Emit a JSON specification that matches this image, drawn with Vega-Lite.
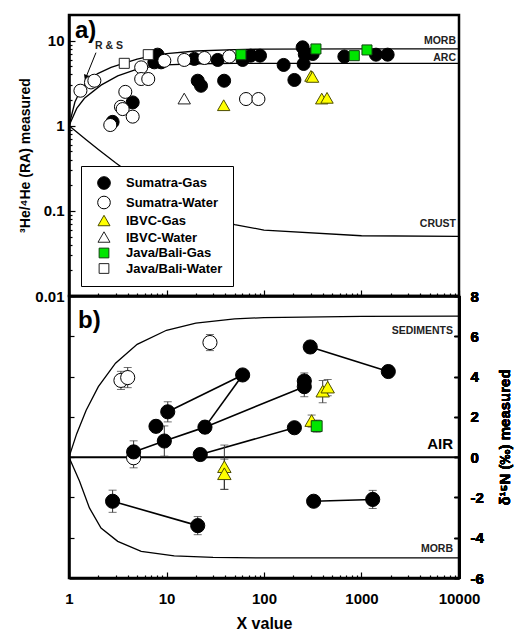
{
  "$schema": "https://vega.github.io/schema/vega-lite/v6.json",
  "padding": {"left": 16, "top": 13, "right": 0, "bottom": 0},
  "spacing": 0,
  "bounds": "flush",
  "config": {
    "font": "Liberation Sans",
    "view": {"stroke": "black", "strokeWidth": 2.5},
    "axis": {"grid": false, "domainColor": "black", "domainWidth": 2.5, "tickColor": "black", "tickWidth": 1.2,
      "labelFont": "Liberation Sans", "labelFontWeight": "bold", "labelFontSize": 15, "labelColor": "black",
      "titleFont": "Liberation Sans", "titleFontWeight": "bold", "titleColor": "black",
      "labelFlush": false, "labelOverlap": false, "labelBound": false}
  },
  "datasets": {
    "curvesA": [
      {"c": "MORB", "x": 1, "y": 1}, {"c": "MORB", "x": 1.15, "y": 1.9}, {"c": "MORB", "x": 1.33, "y": 2.7}, {"c": "MORB", "x": 1.6, "y": 3.45}, {"c": "MORB", "x": 1.97, "y": 4.1}, {"c": "MORB", "x": 2.7, "y": 4.85}, {"c": "MORB", "x": 3.69, "y": 5.45}, {"c": "MORB", "x": 5, "y": 6.05}, {"c": "MORB", "x": 6.5, "y": 6.5}, {"c": "MORB", "x": 10, "y": 7.05}, {"c": "MORB", "x": 20, "y": 7.55}, {"c": "MORB", "x": 50, "y": 7.85}, {"c": "MORB", "x": 100, "y": 7.95}, {"c": "MORB", "x": 1000, "y": 8.0}, {"c": "MORB", "x": 10000, "y": 8.0},
      {"c": "ARC", "x": 1, "y": 1}, {"c": "ARC", "x": 1.2, "y": 1.6}, {"c": "ARC", "x": 1.44, "y": 2.1}, {"c": "ARC", "x": 2.13, "y": 3.0}, {"c": "ARC", "x": 3.16, "y": 3.85}, {"c": "ARC", "x": 4.67, "y": 4.5}, {"c": "ARC", "x": 6.9, "y": 4.95}, {"c": "ARC", "x": 10, "y": 5.2}, {"c": "ARC", "x": 20, "y": 5.35}, {"c": "ARC", "x": 50, "y": 5.4}, {"c": "ARC", "x": 10000, "y": 5.4},
      {"c": "CRUST", "x": 1, "y": 1}, {"c": "CRUST", "x": 1.2, "y": 0.842}, {"c": "CRUST", "x": 1.5, "y": 0.683}, {"c": "CRUST", "x": 2, "y": 0.525}, {"c": "CRUST", "x": 3, "y": 0.367}, {"c": "CRUST", "x": 5, "y": 0.24}, {"c": "CRUST", "x": 10, "y": 0.145}, {"c": "CRUST", "x": 20, "y": 0.0975}, {"c": "CRUST", "x": 50, "y": 0.069}, {"c": "CRUST", "x": 100, "y": 0.0595}, {"c": "CRUST", "x": 1000, "y": 0.051}, {"c": "CRUST", "x": 10000, "y": 0.0501}
    ],
    "ptsA": [
      {"s": "Sumatra-Gas", "x": 2.8, "y": 1.11}, {"s": "Sumatra-Gas", "x": 4.5, "y": 1.88}, {"s": "Sumatra-Gas", "x": 8.1, "y": 6.84}, {"s": "Sumatra-Gas", "x": 7.5, "y": 5.56}, {"s": "Sumatra-Gas", "x": 8.8, "y": 5.56}, {"s": "Sumatra-Gas", "x": 19.3, "y": 6.1}, {"s": "Sumatra-Gas", "x": 20.9, "y": 3.38}, {"s": "Sumatra-Gas", "x": 22.6, "y": 2.95}, {"s": "Sumatra-Gas", "x": 39, "y": 3.38}, {"s": "Sumatra-Gas", "x": 33.5, "y": 5.93}, {"s": "Sumatra-Gas", "x": 60.4, "y": 5.93}, {"s": "Sumatra-Gas", "x": 73, "y": 6.66}, {"s": "Sumatra-Gas", "x": 91, "y": 6.66}, {"s": "Sumatra-Gas", "x": 249, "y": 8.34}, {"s": "Sumatra-Gas", "x": 262, "y": 6.9}, {"s": "Sumatra-Gas", "x": 255, "y": 5.32}, {"s": "Sumatra-Gas", "x": 159, "y": 5.18}, {"s": "Sumatra-Gas", "x": 205, "y": 3.45}, {"s": "Sumatra-Gas", "x": 316, "y": 6.97}, {"s": "Sumatra-Gas", "x": 667, "y": 6.5}, {"s": "Sumatra-Gas", "x": 1408, "y": 6.84}, {"s": "Sumatra-Gas", "x": 1854, "y": 6.84},
      {"s": "Sumatra-Water", "x": 1.31, "y": 2.58}, {"s": "Sumatra-Water", "x": 1.68, "y": 3.23}, {"s": "Sumatra-Water", "x": 1.82, "y": 3.38}, {"s": "Sumatra-Water", "x": 3.78, "y": 2.5}, {"s": "Sumatra-Water", "x": 3.41, "y": 1.67}, {"s": "Sumatra-Water", "x": 3.55, "y": 1.57}, {"s": "Sumatra-Water", "x": 4.5, "y": 1.28}, {"s": "Sumatra-Water", "x": 2.65, "y": 1.02}, {"s": "Sumatra-Water", "x": 5.5, "y": 4.85}, {"s": "Sumatra-Water", "x": 5.5, "y": 3.54}, {"s": "Sumatra-Water", "x": 6.5, "y": 3.54}, {"s": "Sumatra-Water", "x": 9.5, "y": 5.8}, {"s": "Sumatra-Water", "x": 15.2, "y": 5.93}, {"s": "Sumatra-Water", "x": 24.5, "y": 6.25}, {"s": "Sumatra-Water", "x": 44, "y": 6.5}, {"s": "Sumatra-Water", "x": 65.4, "y": 2.06}, {"s": "Sumatra-Water", "x": 87.7, "y": 2.06},
      {"s": "IBVC-Gas", "x": 38.6, "y": 1.72}, {"s": "IBVC-Gas", "x": 303, "y": 3.8}, {"s": "IBVC-Gas", "x": 315, "y": 3.7}, {"s": "IBVC-Gas", "x": 391, "y": 2.06}, {"s": "IBVC-Gas", "x": 443, "y": 2.1},
      {"s": "IBVC-Water", "x": 15.2, "y": 2.06},
      {"s": "Java/Bali-Gas", "x": 58, "y": 6.84}, {"s": "Java/Bali-Gas", "x": 341, "y": 7.98}, {"s": "Java/Bali-Gas", "x": 843, "y": 6.66}, {"s": "Java/Bali-Gas", "x": 1138, "y": 7.77},
      {"s": "Java/Bali-Water", "x": 3.69, "y": 5.41}, {"s": "Java/Bali-Water", "x": 6.5, "y": 6.84}
    ],
    "labelsA": [
      {"t": "MORB", "x": 10000, "y": 10}, {"t": "ARC", "x": 10000, "y": 6.3}, {"t": "CRUST", "x": 10000, "y": 0.0703}
    ],
    "curvesB": [
      {"c": "SED", "x": 1, "y": 0}, {"c": "SED", "x": 1.2, "y": 1.167}, {"c": "SED", "x": 1.5, "y": 2.333}, {"c": "SED", "x": 2, "y": 3.5}, {"c": "SED", "x": 3, "y": 4.667}, {"c": "SED", "x": 5, "y": 5.6}, {"c": "SED", "x": 10, "y": 6.3}, {"c": "SED", "x": 20, "y": 6.65}, {"c": "SED", "x": 50, "y": 6.86}, {"c": "SED", "x": 100, "y": 6.93}, {"c": "SED", "x": 1000, "y": 6.99}, {"c": "SED", "x": 10000, "y": 7.0},
      {"c": "MORB", "x": 1, "y": 0}, {"c": "MORB", "x": 1.28, "y": -1.19}, {"c": "MORB", "x": 1.62, "y": -2.52}, {"c": "MORB", "x": 2.13, "y": -3.52}, {"c": "MORB", "x": 3.16, "y": -4.18}, {"c": "MORB", "x": 5.5, "y": -4.68}, {"c": "MORB", "x": 12, "y": -4.9}, {"c": "MORB", "x": 30, "y": -4.98}, {"c": "MORB", "x": 100, "y": -5.0}, {"c": "MORB", "x": 10000, "y": -5.0}
    ],
    "links": [
      {"g": "g1", "x": 10.3, "y": 2.25}, {"g": "g1", "x": 60.4, "y": 4.08},
      {"g": "g2", "x": 24.8, "y": 1.49}, {"g": "g2", "x": 60.4, "y": 4.08},
      {"g": "g3", "x": 4.6, "y": 0.26}, {"g": "g3", "x": 9.5, "y": 0.8}, {"g": "g3", "x": 24.8, "y": 1.49}, {"g": "g3", "x": 259, "y": 3.5},
      {"g": "g4", "x": 22.2, "y": 0.13}, {"g": "g4", "x": 205, "y": 1.46},
      {"g": "g5", "x": 2.8, "y": -2.19}, {"g": "g5", "x": 20.9, "y": -3.4},
      {"g": "g6", "x": 298, "y": 5.47}, {"g": "g6", "x": 1883, "y": 4.25},
      {"g": "g7", "x": 323, "y": -2.19}, {"g": "g7", "x": 1303, "y": -2.1}
    ],
    "ptsB": [
      {"s": "Sumatra-Water", "x": 3.41, "y": 3.81, "e": 0.45}, {"s": "Sumatra-Water", "x": 4.0, "y": 3.95, "e": 0.5}, {"s": "Sumatra-Water", "x": 27.9, "y": 5.69, "e": 0.4}, {"s": "Sumatra-Water", "x": 4.6, "y": -0.03, "e": 0.5},
      {"s": "Sumatra-Gas", "x": 60.4, "y": 4.08, "e": 0.25}, {"s": "Sumatra-Gas", "x": 10.3, "y": 2.25, "e": 0.5}, {"s": "Sumatra-Gas", "x": 7.8, "y": 1.53, "e": 0.3}, {"s": "Sumatra-Gas", "x": 24.8, "y": 1.49, "e": 0.3}, {"s": "Sumatra-Gas", "x": 9.5, "y": 0.8, "e": 0.75}, {"s": "Sumatra-Gas", "x": 4.6, "y": 0.26, "e": 0.55}, {"s": "Sumatra-Gas", "x": 22.2, "y": 0.13, "e": 0.3}, {"s": "Sumatra-Gas", "x": 2.8, "y": -2.19, "e": 0.55}, {"s": "Sumatra-Gas", "x": 20.9, "y": -3.4, "e": 0.45}, {"s": "Sumatra-Gas", "x": 259, "y": 3.78, "e": 0.4}, {"s": "Sumatra-Gas", "x": 259, "y": 3.5, "e": 0.5}, {"s": "Sumatra-Gas", "x": 205, "y": 1.46, "e": 0.25}, {"s": "Sumatra-Gas", "x": 298, "y": 5.47, "e": 0.3}, {"s": "Sumatra-Gas", "x": 1883, "y": 4.25, "e": 0.3}, {"s": "Sumatra-Gas", "x": 323, "y": -2.19, "e": 0.15}, {"s": "Sumatra-Gas", "x": 1303, "y": -2.1, "e": 0.45},
      {"s": "IBVC-Gas", "x": 39.2, "y": -0.5, "e": 1.1}, {"s": "IBVC-Gas", "x": 39.2, "y": -0.85, "e": 0.75}, {"s": "IBVC-Gas", "x": 400, "y": 3.25, "e": 0.55}, {"s": "IBVC-Gas", "x": 450, "y": 3.45, "e": 0.4}, {"s": "IBVC-Gas", "x": 308, "y": 1.79, "e": 0.3},
      {"s": "Java/Bali-Gas", "x": 347, "y": 1.54, "e": 0.3}
    ],
    "air": [{"x": 1, "x2": 10000, "y": 0}]
  },
  "vconcat": [
    {
      "width": 390, "height": 281,
      "layer": [
        {
          "data": {"name": "curvesA"},
          "mark": {"type": "line", "color": "black", "strokeWidth": 1.3, "clip": true},
          "encoding": {
            "x": {"field": "x", "type": "quantitative", "scale": {"type": "log", "domain": [1, 10000], "nice": false},
              "axis": {"orient": "bottom", "labels": false, "title": null,
                "values": [1,2,3,4,5,6,7,8,9,10,20,30,40,50,60,70,80,90,100,200,300,400,500,600,700,800,900,1000,2000,3000,4000,5000,6000,7000,8000,9000,10000],
                "tickSize": {"condition": {"test": "indexof([1,10,100,1000,10000], datum.value) >= 0", "value": -6}, "value": -3}}},
            "y": {"field": "y", "type": "quantitative", "scale": {"type": "log", "domain": [0.01, 20], "nice": false},
              "axis": {"orient": "left", "title": "³He/⁴He (RA) measured", "titleFontSize": 14, "titleAngle": 270, "titleX": -44, "titleY": 140, "titleAlign": "center", "titleBaseline": "middle",
                "values": [0.01,0.02,0.03,0.04,0.05,0.06,0.07,0.08,0.09,0.1,0.2,0.3,0.4,0.5,0.6,0.7,0.8,0.9,1,2,3,4,5,6,7,8,9,10],
                "labelExpr": "indexof([0.01,0.1,1,10], datum.value) >= 0 ? toString(datum.value) : ''",
                "labelPadding": 11,
                "tickSize": {"condition": {"test": "indexof([0.01,0.1,1,10], datum.value) >= 0", "value": -6}, "value": -3}}},
            "detail": {"field": "c"},
            "order": {"field": "x", "type": "quantitative"}
          }
        },
        {
          "data": {"values": [{"x": 1.89, "y": 7.22, "x2": 1.5, "y2": 3.75}]},
          "mark": {"type": "rule", "color": "black", "strokeWidth": 1},
          "encoding": {"x": {"field": "x", "type": "quantitative"}, "y": {"field": "y", "type": "quantitative"}, "x2": {"field": "x2"}, "y2": {"field": "y2"}}
        },
        {
          "data": {"values": [{"x": 1.49, "y": 3.67}]},
          "mark": {"type": "point", "shape": "triangle-down", "filled": true, "color": "black", "size": 40, "angle": 22, "opacity": 1},
          "encoding": {"x": {"field": "x", "type": "quantitative"}, "y": {"field": "y", "type": "quantitative"}}
        },
        {
          "data": {"name": "ptsA"},
          "mark": {"type": "point", "filled": true, "strokeWidth": 1, "opacity": 1, "size": 170},
          "encoding": {
            "x": {"field": "x", "type": "quantitative"},
            "y": {"field": "y", "type": "quantitative"},
            "shape": {"field": "s", "type": "nominal",
              "scale": {"domain": ["Sumatra-Gas", "Sumatra-Water", "IBVC-Gas", "IBVC-Water", "Java/Bali-Gas", "Java/Bali-Water"], "range": ["circle", "circle", "M0,-0.9L0.95,0.75L-0.95,0.75Z", "M0,-0.9L0.95,0.75L-0.95,0.75Z", "M-0.77,-0.77H0.77V0.77H-0.77Z", "M-0.77,-0.77H0.77V0.77H-0.77Z"]},
              "legend": {"orient": "none", "legendX": 12, "legendY": 151, "title": null, "strokeColor": "black", "fillColor": "white", "padding": 10, "labelFont": "Liberation Sans", "labelFontSize": 13, "labelFontWeight": "bold", "labelColor": "black", "symbolSize": 160, "symbolStrokeWidth": 1, "rowPadding": 1.5, "labelOffset": 15, "symbolOffset": 6}},
            "fill": {"field": "s", "type": "nominal",
              "scale": {"domain": ["Sumatra-Gas", "Sumatra-Water", "IBVC-Gas", "IBVC-Water", "Java/Bali-Gas", "Java/Bali-Water"], "range": ["black", "white", "#ffff00", "white", "#00e600", "white"]},
              "legend": {"orient": "none", "legendX": 12, "legendY": 151, "title": null, "strokeColor": "black", "fillColor": "white", "padding": 10, "labelFont": "Liberation Sans", "labelFontSize": 13, "labelFontWeight": "bold", "labelColor": "black", "symbolSize": 160, "symbolStrokeWidth": 1, "rowPadding": 1.5, "labelOffset": 15, "symbolOffset": 6}},
            "stroke": {"field": "s", "type": "nominal",
              "scale": {"domain": ["Sumatra-Gas", "Sumatra-Water", "IBVC-Gas", "IBVC-Water", "Java/Bali-Gas", "Java/Bali-Water"], "range": ["black", "black", "#4d4d00", "#222222", "#114411", "#222222"]},
              "legend": {"orient": "none", "legendX": 12, "legendY": 151, "title": null, "strokeColor": "black", "fillColor": "white", "padding": 10, "labelFont": "Liberation Sans", "labelFontSize": 13, "labelFontWeight": "bold", "labelColor": "black", "symbolSize": 160, "symbolStrokeWidth": 1, "rowPadding": 1.5, "labelOffset": 15, "symbolOffset": 6}}
          }
        },
        {
          "data": {"name": "labelsA"},
          "mark": {"type": "text", "align": "right", "baseline": "middle", "dx": -3, "fontSize": 10.5, "fontWeight": "bold", "color": "#222"},
          "encoding": {"x": {"field": "x", "type": "quantitative"}, "y": {"field": "y", "type": "quantitative"}, "text": {"field": "t"}}
        },
        {
          "data": {"values": [{"t": "a)", "x": 1.15, "y": 10.6}]},
          "mark": {"type": "text", "align": "left", "baseline": "alphabetic", "fontSize": 24, "fontWeight": "bold", "color": "black"},
          "encoding": {"x": {"field": "x", "type": "quantitative"}, "y": {"field": "y", "type": "quantitative"}, "text": {"field": "t"}}
        },
        {
          "data": {"values": [{"t": "R & S", "x": 1.85, "y": 8.7}]},
          "mark": {"type": "text", "align": "left", "baseline": "middle", "fontSize": 10.5, "fontWeight": "bold", "color": "#222"},
          "encoding": {"x": {"field": "x", "type": "quantitative"}, "y": {"field": "y", "type": "quantitative"}, "text": {"field": "t"}}
        }
      ]
    },
    {
      "width": 390, "height": 282,
      "encoding": {
        "x": {"field": "x", "type": "quantitative", "scale": {"type": "log", "domain": [1, 10000], "nice": false},
          "axis": {"orient": "bottom", "title": "X value", "titleFontSize": 16, "titleX": 195, "titleY": 45, "titleBaseline": "middle",
            "values": [1,2,3,4,5,6,7,8,9,10,20,30,40,50,60,70,80,90,100,200,300,400,500,600,700,800,900,1000,2000,3000,4000,5000,6000,7000,8000,9000,10000],
            "labelExpr": "indexof([1,10,100,1000,10000], datum.value) >= 0 ? toString(datum.value) : ''",
            "labelPadding": 19,
            "tickSize": {"condition": {"test": "indexof([1,10,100,1000,10000], datum.value) >= 0", "value": -6}, "value": -3}}},
        "y": {"field": "y", "type": "quantitative", "scale": {"domain": [-6, 8], "nice": false, "zero": false},
          "axis": {"orient": "right", "title": "δ¹⁵N (‰) measured", "titleFontSize": 15, "titleAngle": 270, "titleX": 45, "titleY": 141, "titleAlign": "center", "titleBaseline": "middle",
            "values": [-6,-4,-2,0,2,4,6,8], "labelExpr": "toString(datum.value)", "labelAlign": "left", "labelPadding": 16, "tickSize": -5}}
      },
      "layer": [
        {
          "data": {"name": "air"},
          "mark": {"type": "rule", "color": "black", "strokeWidth": 2},
          "encoding": {
            "x2": {"field": "x2"},
            "y": {"field": "y", "type": "quantitative",
              "axis": {"orient": "left", "labels": false, "title": null, "values": [-6,-4,-2,0,2,4,6,8], "tickSize": -5}}
          }
        },
        {
          "data": {"name": "curvesB"},
          "mark": {"type": "line", "color": "black", "strokeWidth": 1.3},
          "encoding": {
            "detail": {"field": "c"},
            "order": {"field": "x", "type": "quantitative"}
          }
        },
        {
          "data": {"name": "links"},
          "mark": {"type": "line", "color": "black", "strokeWidth": 1.6},
          "encoding": {
            "detail": {"field": "g"},
            "order": {"field": "x", "type": "quantitative"}
          }
        },
        {
          "data": {"name": "ptsB"},
          "mark": {"type": "errorbar", "ticks": {"size": 8}, "color": "#333", "thickness": 1},
          "encoding": {
            "yError": {"field": "e"}
          }
        },
        {
          "data": {"name": "ptsB"},
          "mark": {"type": "point", "filled": true, "strokeWidth": 1, "opacity": 1, "size": 200},
          "encoding": {
            "shape": {"field": "s", "type": "nominal", "legend": null,
              "scale": {"domain": ["Sumatra-Gas", "Sumatra-Water", "IBVC-Gas", "IBVC-Water", "Java/Bali-Gas", "Java/Bali-Water"], "range": ["circle", "circle", "M0,-0.9L0.95,0.75L-0.95,0.75Z", "M0,-0.9L0.95,0.75L-0.95,0.75Z", "M-0.77,-0.77H0.77V0.77H-0.77Z", "M-0.77,-0.77H0.77V0.77H-0.77Z"]}},
            "fill": {"field": "s", "type": "nominal", "legend": null,
              "scale": {"domain": ["Sumatra-Gas", "Sumatra-Water", "IBVC-Gas", "IBVC-Water", "Java/Bali-Gas", "Java/Bali-Water"], "range": ["black", "white", "#ffff00", "white", "#00e600", "white"]}},
            "stroke": {"field": "s", "type": "nominal", "legend": null,
              "scale": {"domain": ["Sumatra-Gas", "Sumatra-Water", "IBVC-Gas", "IBVC-Water", "Java/Bali-Gas", "Java/Bali-Water"], "range": ["black", "black", "#4d4d00", "#222222", "#114411", "#222222"]}}
          }
        },
        {
          "data": {"values": [{"t": "SEDIMENTS", "x": 10000, "y": 6.27}, {"t": "MORB", "x": 10000, "y": -4.58}]},
          "mark": {"type": "text", "align": "right", "baseline": "middle", "dx": -6, "fontSize": 10.5, "fontWeight": "bold", "color": "#222"},
          "encoding": {"text": {"field": "t"}}
        },
        {
          "data": {"values": [{"t": "AIR", "x": 10000, "y": 0.65}]},
          "mark": {"type": "text", "align": "right", "baseline": "middle", "dx": -6, "fontSize": 15, "fontWeight": "bold", "color": "black"},
          "encoding": {"text": {"field": "t"}}
        },
        {
          "data": {"values": [{"t": "b)", "x": 1.24, "y": 6.42}]},
          "mark": {"type": "text", "align": "left", "baseline": "alphabetic", "fontSize": 24, "fontWeight": "bold", "color": "black"},
          "encoding": {"text": {"field": "t"}}
        }
      ]
    }
  ]
}
